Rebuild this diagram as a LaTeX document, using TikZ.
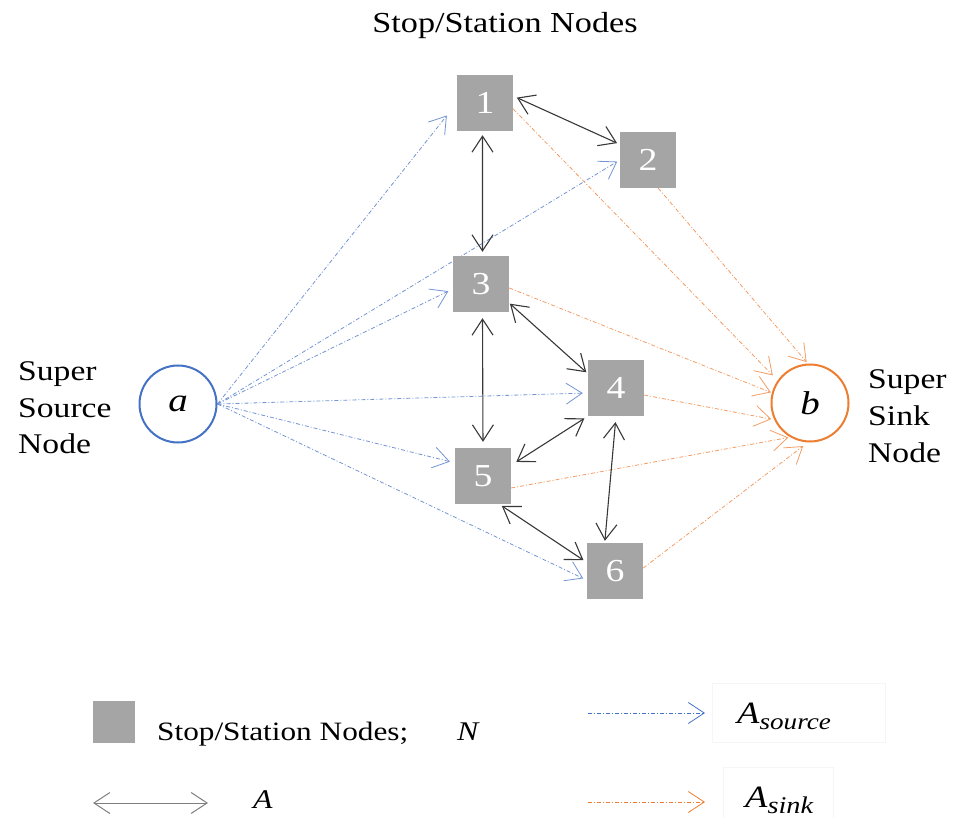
\documentclass[tikz,border=0pt]{standalone}
\usepackage{fontspec}
\setmainfont{Liberation Serif}[FakeStretch=1.18]
\usetikzlibrary{arrows.meta,backgrounds}

\definecolor{stopgray}{HTML}{A5A5A5}
\definecolor{srcblue}{HTML}{4472C4}
\definecolor{sinkorange}{HTML}{ED7D31}
\definecolor{arcgray}{HTML}{383838}
\definecolor{legendgray}{HTML}{7F7F7F}

\tikzset{
  openhead/.tip={Straight Barb[length=16pt,width=21pt]},
  stopbox/.style={fill=stopgray, minimum size=56pt, inner sep=0pt,
    text=white, font=\fontsize{32}{32}\selectfont},
  supernode/.style={circle, line width=2pt, fill=white, minimum size=77pt,
    inner sep=0pt, font=\fontsize{33}{33}\selectfont\itshape},
  biarc/.style={draw=arcgray, line width=1.1pt, openhead-openhead},
  srcarc/.style={draw=srcblue!75, line width=0.8pt,
    dash pattern=on 4pt off 2pt on 1pt off 2pt, -openhead},
  sinkarc/.style={draw=sinkorange!75, line width=0.8pt,
    dash pattern=on 4pt off 2pt on 1pt off 2pt, -openhead},
  lbl/.style={anchor=base west, inner sep=0pt, font=\fontsize{28.5}{28.5}\selectfont},
  legendtxt/.style={anchor=base west, inner sep=0pt, font=\fontsize{26.5}{26.5}\selectfont},
  legendsym/.style={anchor=base west, inner sep=0pt, font=\fontsize{27}{27}\selectfont\itshape},
  faintframe/.style={draw=black!4, line width=0.8pt},
}

\begin{document}
\begin{tikzpicture}[x=1pt,y=-1pt]
\useasboundingbox (0,0) rectangle (958,818);

% title
\node[anchor=base, inner sep=0pt, font=\fontsize{29}{29}\selectfont] (title) at (505,33) {Stop/Station Nodes};

% stop / station nodes
\node[stopbox] (n1) at (485,103) {1};
\node[stopbox] (n2) at (648,160) {2};
\node[stopbox] (n3) at (481,284) {3};
\node[stopbox] (n4) at (616,388) {4};
\node[stopbox] (n5) at (483,476) {5};
\node[stopbox] (n6) at (615,571) {6};

% super source and super sink
\node[supernode, draw=srcblue] (a) at (178,404) {a};
\node[supernode, draw=sinkorange] (b) at (810,403) {b};

% side labels
\node[lbl] (srcl1) at (18,380) {Super};
\node[lbl] (srcl2) at (18,417) {Source};
\node[lbl] (srcl3) at (18,453) {Node};
\node[lbl] (snkl1) at (868,388) {Super};
\node[lbl] (snkl2) at (868,425) {Sink};
\node[lbl] (snkl3) at (868,462) {Node};

\begin{scope}[on background layer]
  % source arcs
  \draw[srcarc, shorten >=16pt] (a.east) -- (n1.west);
  \draw[srcarc, shorten >=3pt] (a.east) -- (n2.west);
  \draw[srcarc, shorten >=5pt] (a.east) -- (n3.190);
  \draw[srcarc, shorten >=5pt] (a.east) -- (n4.190);
  \draw[srcarc, shorten >=5pt] (a.east) -- (n5.155);
  \draw[srcarc, shorten >=4pt] (a.east) -- (n6.198);
  % sink arcs
  \draw[sinkarc, shorten >=7pt] (n1.-12) -- (b.145);
  \draw[sinkarc, shorten >=2pt] (n2.-70) -- (b.93);
  \draw[sinkarc, shorten >=1pt] (n3.-8) -- (b.165);
  \draw[sinkarc, shorten >=3pt] (n4.-14) -- (b.205);
  \draw[sinkarc, shorten >=2pt] (n5.-23) -- (b.240);
  \draw[sinkarc, shorten >=6pt] (n6.6) -- (b.267);
\end{scope}

% arcs between stops
\draw[biarc, shorten <=4pt, shorten >=3pt] (n1.14) -- (n2.151);
\draw[biarc, shorten <=4pt, shorten >=4pt] (n1.265) -- (n3.87);
\draw[biarc, shorten <=1pt, shorten >=2pt] (n3.-34) -- (n4.153);
\draw[biarc, shorten <=6pt, shorten >=6pt] (n3.-87) -- (n5.north);
\draw[biarc, shorten <=4pt, shorten >=6pt] (n4.south west) -- (n5.21);
\draw[biarc, shorten <=6pt, shorten >=2pt] (n4.south) -- (n6.110);
\draw[biarc, shorten <=3pt, shorten >=4pt] (n5.-60) -- (n6.163);

% legend
\node[fill=stopgray, minimum size=42pt, inner sep=0pt] (lgbox) at (114,722) {};
\node[legendtxt] (lgboxtxt) at (157,740) {Stop/Station Nodes;};
\node[legendsym] (lgN) at (457,740) {N};

\coordinate (lgA1) at (93,803);
\coordinate (lgA2) at (208,803);
\draw[draw=legendgray, line width=1pt, openhead-openhead] (lgA1) -- (lgA2);
\node[legendsym] (lgA) at (253,808) {A};

\draw[faintframe] (712,683) rectangle (885,742);
\draw[faintframe] (723,767) rectangle (833,830);

\coordinate (lgS1) at (588,713);
\coordinate (lgS2) at (705,713);
\draw[srcarc, draw=srcblue] (lgS1) -- (lgS2);
\node[anchor=base west, inner sep=0pt, font=\fontsize{31}{31}\selectfont\itshape] (lgSrc) at (737,723)
  {A\raisebox{-6pt}{\fontsize{23}{23}\selectfont source}};

\coordinate (lgK1) at (588,802);
\coordinate (lgK2) at (705,802);
\draw[sinkarc, draw=sinkorange] (lgK1) -- (lgK2);
\node[anchor=base west, inner sep=0pt, font=\fontsize{31}{31}\selectfont\itshape] (lgSnk) at (745,807)
  {A\raisebox{-6pt}{\fontsize{24}{24}\selectfont sink}};
\end{tikzpicture}
\end{document}
